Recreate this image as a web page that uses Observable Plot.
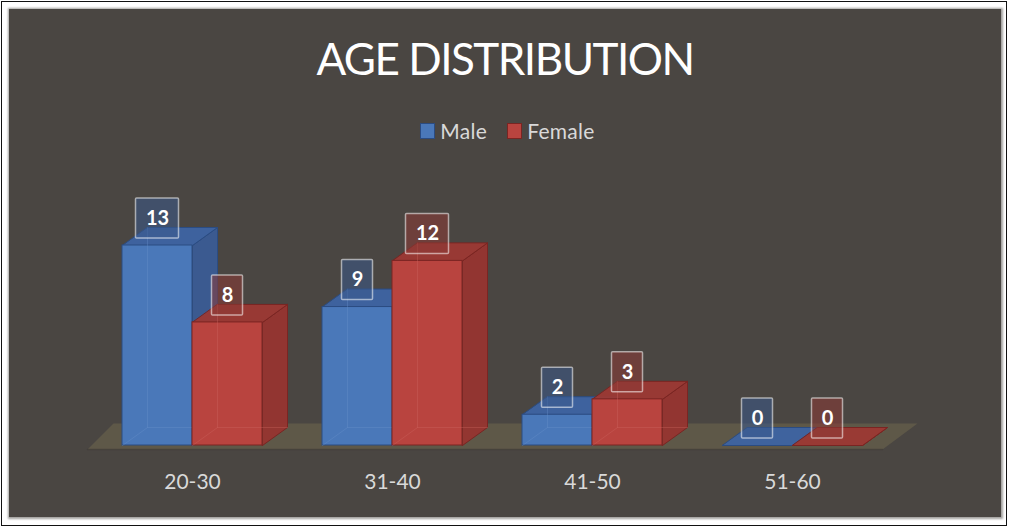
<!DOCTYPE html>
<html>
<head>
<meta charset="utf-8">
<script src="https://cdn.jsdelivr.net/npm/d3@7"></script>
<script src="https://cdn.jsdelivr.net/npm/@observablehq/plot@0.6"></script>
<style>
  html, body { margin: 0; padding: 0; background: #ffffff; }
  #page { position: relative; width: 1013px; height: 531px; overflow: hidden; font-family: Lato, "Open Sans", sans-serif; }
  #outer { position: absolute; left: 1px; top: 1px; width: 1006px; height: 525px; border: 1.5px solid #111; box-sizing: border-box; }
  #panel { position: absolute; left: 9px; top: 9px; width: 992px; height: 508px; background: #4a4642; box-shadow: 0 0 2px 1.5px #a3a19f; }
  #title { position: absolute; left: 8px; width: 994px; top: 31px; margin: 0; text-align: center; color: #ffffff; font-size: 44px; letter-spacing: -1.5px; font-weight: normal; line-height: 54px; }
  #legend { position: absolute; left: 1px; width: 1013px; top: 119px; text-align: center; color: #d9d9d9; font-size: 21px; letter-spacing: 0.3px; line-height: 24px; }
  #legend .item { display: inline-flex; align-items: center; margin: 0 10px; }
  #legend .sw { display: inline-block; width: 15px; height: 16px; margin-right: 5px; box-sizing: border-box; }
  #chart { position: absolute; left: 0; top: 0; }
</style>
</head>
<body>
<div id="page">
  <div id="outer"></div>
  <div id="panel"></div>
  <h1 id="title">AGE DISTRIBUTION</h1>
  <div id="legend"></div>
  <div id="chart"></div>
</div>
<script>
// ---- data ----
const categories = ["20-30", "31-40", "41-50", "51-60"];
const seriesNames = ["Male", "Female"];
const maleCounts = [13, 9, 2, 0];
const femaleCounts = [8, 12, 3, 0];

// ---- styles ----
const palette = {
  Male:   { front: "#4a78b9", top: "#3d64a3", side: "#3a5c95", edge: "#2b4c82", inner: "#6b93cc", box: "#3a5a8c" },
  Female: { front: "#b9443f", top: "#9c3934", side: "#963530", edge: "#7a2522", inner: "#cf6862", box: "#8c3a36" }
};

// ---- layout (pixels) ----
const W = 1013, H = 531;
const plotLeft = 92, plotRight = 892, baseY = 445, topY = 245, yMax = 13;
const pxPerX = (plotRight - plotLeft) / categories.length;
const pxPerY = (baseY - topY) / yMax;
const DX = 25 / pxPerX, DY = 18 / pxPerY;    // 3D depth in data units
const barW = 0.35, groupPad = 0.15;

const rows = [];
categories.forEach((cat, i) => {
  [maleCounts, femaleCounts].forEach((arr, s) => {
    rows.push({ cat, i, s, sex: seriesNames[s], value: arr[i] });
  });
});
const x1Of = r => r.i + groupPad + r.s * barW;
const x2Of = r => x1Of(r) + barW;
const cxOf = r => x1Of(r) + barW / 2;

function poly(id, pts) { return pts.map(([x, y]) => ({ id, x, y })); }

// floor
const floorPts = poly("floor", [
  [-5 / pxPerX, -4 / pxPerY],
  [categories.length - 10 / pxPerX, -4 / pxPerY],
  [categories.length + 25 / pxPerX, 22 / pxPerY],
  [21 / pxPerX, 22 / pxPerY]
]);

const marks = [];
marks.push(Plot.line(floorPts, { x: "x", y: "y", z: "id", fill: "#5e5848", stroke: "none", curve: "linear-closed" }));
marks.push(Plot.line(floorPts.slice(0, 2), { x: "x", y: "y", stroke: "#3e3a35", strokeWidth: 1.5, strokeOpacity: 0.6 }));

seriesNames.forEach(sex => {
  const c = palette[sex];
  const data = rows.filter(r => r.sex === sex);
  const sides = data.flatMap(r => poly(r.cat, [
    [x2Of(r), 0], [x2Of(r) + DX, DY], [x2Of(r) + DX, r.value + DY], [x2Of(r), r.value]
  ]));
  const tops = data.flatMap(r => poly(r.cat, [
    [x1Of(r), r.value], [x2Of(r), r.value], [x2Of(r) + DX, r.value + DY], [x1Of(r) + DX, r.value + DY]
  ]));
  const inner = data.filter(r => r.value > 0).flatMap(r => poly(r.cat, [
    [x1Of(r), 0], [x1Of(r) + DX, DY], [x1Of(r) + DX, r.value + DY]
  ]).concat(poly(r.cat + "b", [[x1Of(r) + DX, DY], [x2Of(r) + DX, DY]])));
  marks.push(
    Plot.line(sides, { x: "x", y: "y", z: "id", fill: c.side, stroke: c.edge, strokeWidth: 1, fillOpacity: 0.95, curve: "linear-closed" }),
    Plot.line(tops, { x: "x", y: "y", z: "id", fill: c.top, stroke: c.edge, strokeWidth: 1, fillOpacity: 0.95, curve: "linear-closed" }),
    Plot.rect(data, { x1: x1Of, x2: x2Of, y1: () => 0, y2: "value", fill: c.front, stroke: c.edge, strokeWidth: 1 }),
    Plot.line(inner, { x: "x", y: "y", z: "id", stroke: c.inner, strokeWidth: 1, strokeOpacity: 0.35 })
  );
});

// data labels
seriesNames.forEach(sex => {
  const c = palette[sex];
  [1, 2].forEach(nd => {
    const data = rows.filter(r => r.sex === sex && String(r.value).length === nd);
    const half = nd === 1 ? 15.5 : 21.5;
    marks.push(Plot.rect(data, {
      x1: cxOf, x2: cxOf, y1: "value", y2: "value",
      insetLeft: -half, insetRight: -half, insetTop: -20, insetBottom: -20, dy: -27,
      fill: c.box, fillOpacity: 0.55, stroke: "#ffffff", strokeOpacity: 0.55, strokeWidth: 1.5, rx: 1
    }));
  });
});
marks.push(Plot.text(rows, {
  x: cxOf, y: "value", text: r => String(r.value), dy: -27,
  fill: "#ffffff", fontWeight: "bold", fontSize: 20, fontFamily: "Lato, 'Open Sans', sans-serif"
}));

marks.push(Plot.axisX({
  ticks: categories.map((c, i) => i + 0.5),
  tickFormat: v => categories[Math.floor(v)],
  tickSize: 0, tickPadding: 14, fontSize: 21, label: null
}));

const chart = Plot.plot({
  width: W, height: H,
  marginTop: 0, marginLeft: 0, marginRight: 0, marginBottom: 71,
  x: { type: "linear", domain: [0, categories.length], range: [plotLeft, plotRight], axis: null },
  y: { type: "linear", domain: [0, yMax], range: [baseY, topY], axis: null },
  style: { background: "transparent", color: "#d9d9d9", fontFamily: "Lato, 'Open Sans', sans-serif", fontSize: "21px", overflow: "visible" },
  marks
});
document.getElementById("chart").appendChild(chart);

// legend
const legend = document.getElementById("legend");
seriesNames.forEach(sex => {
  const item = document.createElement("span");
  item.className = "item";
  const sw = document.createElement("span");
  sw.className = "sw";
  sw.style.background = palette[sex].front;
  sw.style.border = "1px solid " + palette[sex].edge;
  const t = document.createElement("span");
  t.textContent = sex;
  item.appendChild(sw); item.appendChild(t);
  legend.appendChild(item);
});
</script>
</body>
</html>
